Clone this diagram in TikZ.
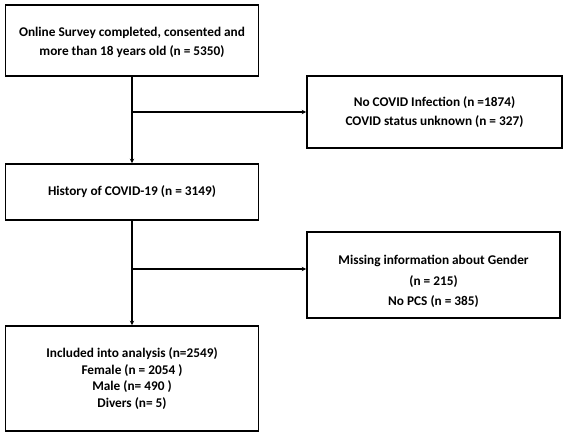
\documentclass[tikz,border=0pt]{standalone}
\usepackage{fontspec}
\setmainfont{Carlito}
\usetikzlibrary{arrows.meta}
\begin{document}
\begin{tikzpicture}[x=1pt,y=-1pt,
  box/.style={draw=black,line width=1.7pt,rectangle,inner sep=0pt,align=center,
    font=\fontsize{13.3}{18.5}\selectfont\bfseries},
  arr/.style={line width=1.1pt,-{Stealth[length=4.5pt,width=4.5pt]}}]
\useasboundingbox (0,0) rectangle (567,437);
\node[box,minimum width=253pt,minimum height=71pt] (b1) at (132,40.5)
  {\rule{0pt}{13pt}Online Survey completed, consented and\\more than 18 years old (n = 5350)};
\node[box,minimum width=255pt,minimum height=72pt] (b2) at (434.5,112)
  {No COVID Infection (n =1874)\\COVID status unknown (n = 327)};
\node[box,minimum width=253pt,minimum height=56pt] (b3) at (132,192)
  {History of COVID-19 (n = 3149)};
\node[box,minimum width=253pt,minimum height=86pt,
  font=\fontsize{13.3}{20.5}\selectfont\bfseries] (b4) at (433.5,275)
  {\rule{0pt}{22pt}Missing information about Gender\\(n = 215)\\No PCS (n = 385)};
\node[box,minimum width=253pt,minimum height=105pt,
  font=\fontsize{13.3}{16.5}\selectfont\bfseries] (b5) at (132,378.5)
  {Included into analysis (n=2549)\\Female (n = 2054 )\\Male (n= 490 )\\Divers (n= 5)};
\coordinate (j1) at (132,112);
\coordinate (j2) at (132,269);
\draw[arr] (b1.south) -- (b3.north);
\draw[arr] (j1) -- (b2.west |- j1);
\draw[arr] (b3.south) -- (b5.north);
\draw[arr] (j2) -- (b4.west |- j2);
\end{tikzpicture}
\end{document}
